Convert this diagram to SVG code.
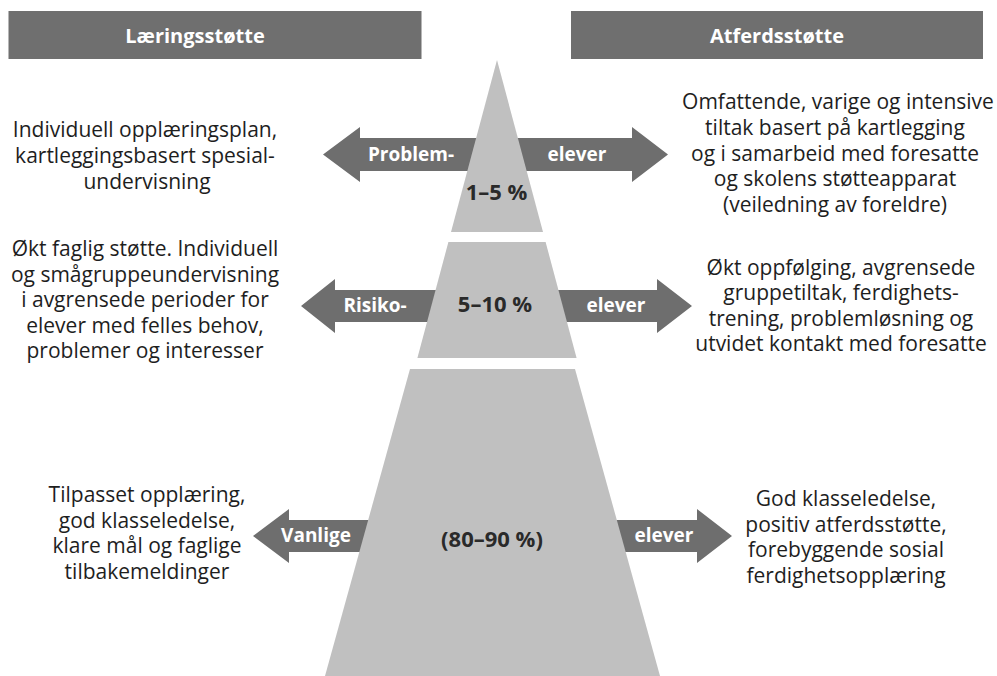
<svg xmlns="http://www.w3.org/2000/svg" width="997" height="676" viewBox="0 0 997 676">
<style>
.hdr{fill:#6f6f6f}
.hdrt{fill:#ffffff;font-family:"Open Sans","Liberation Sans",sans-serif;font-weight:bold;font-size:20px;text-anchor:middle}
.tier{fill:#c0c0c0}
.arrow{fill:#6e6e6e}
.albl{fill:#ffffff;font-family:"Open Sans","Liberation Sans",sans-serif;font-weight:bold;font-size:19px;text-anchor:middle}
.pct{fill:#2a2a2a;font-family:"Open Sans","Liberation Sans",sans-serif;font-weight:bold;font-size:22px;text-anchor:middle}
.body{fill:#1e1e1e;font-family:"Open Sans","Liberation Sans",sans-serif;font-size:21px;text-anchor:middle}
</style>
<rect width="997" height="676" fill="#ffffff"/>
<g id="header-laering">
<rect class="hdr" x="8.5" y="11" width="413" height="48"/>
<text class="hdrt" x="195" y="42.5">Læringsstøtte</text>
</g>
<g id="header-atferd">
<rect class="hdr" x="571" y="11" width="412" height="48"/>
<text class="hdrt" x="777" y="42.5">Atferdsstøtte</text>
</g>
<g id="connectors">
<polygon class="arrow" points="323,154.5 360,127 360,138 497,138 497,171 360,171 360,182"/>
<polygon class="arrow" points="668,154.5 632,127 632,138 497,138 497,171 632,171 632,182"/>
<polygon class="arrow" points="301,306 335,279 335,290 496,290 496,322 335,322 335,333"/>
<polygon class="arrow" points="692,306 657,279 657,290 496,290 496,322 657,322 657,333"/>
<polygon class="arrow" points="253,536 289,509 289,520 492,520 492,552 289,552 289,563"/>
<polygon class="arrow" points="732,536 697,509 697,520 492,520 492,552 697,552 697,563"/>
<text class="albl" x="411" y="161">Problem-</text>
<text class="albl" x="577" y="161">elever</text>
<text class="albl" x="375" y="312">Risiko-</text>
<text class="albl" x="616" y="312">elever</text>
<text class="albl" x="316" y="542">Vanlige</text>
<text class="albl" x="664" y="542">elever</text>
</g>
<g id="tier-top">
<polygon class="tier" points="497,60 543,232 451,232"/>
<text class="pct" x="496.5" y="200">1–5 %</text>
</g>
<g id="tier-middle">
<polygon class="tier" points="448.4,242 545.6,242 576.6,358 417.4,358"/>
<text class="pct" x="495" y="312">5–10 %</text>
</g>
<g id="tier-bottom">
<polygon class="tier" points="410,369 575,369 660,676 325,676"/>
<text class="pct" x="492" y="547" font-weight="600">(80–90 %)</text>
</g>
<g id="text-laering-problem">
<text class="body" x="145" y="137">Individuell opplæringsplan,</text>
<text class="body" x="145" y="163">kartleggingsbasert spesial-</text>
<text class="body" x="147" y="188.5">undervisning</text>
</g>
<g id="text-laering-risiko">
<text class="body" x="145" y="256">Økt faglig støtte. Individuell</text>
<text class="body" x="145" y="281.5">og smågruppeundervisning</text>
<text class="body" x="145" y="307">i avgrensede perioder for</text>
<text class="body" x="145" y="332.5">elever med felles behov,</text>
<text class="body" x="145" y="358">problemer og interesser</text>
</g>
<g id="text-laering-vanlige">
<text class="body" x="147" y="502">Tilpasset opplæring,</text>
<text class="body" x="147" y="527.5">god klasseledelse,</text>
<text class="body" x="147" y="553">klare mål og faglige</text>
<text class="body" x="147" y="578.5">tilbakemeldinger</text>
</g>
<g id="text-atferd-problem">
<text class="body" x="838" y="109">Omfattende, varige og intensive</text>
<text class="body" x="835" y="135">tiltak basert på kartlegging</text>
<text class="body" x="835" y="160.5">og i samarbeid med foresatte</text>
<text class="body" x="835" y="186">og skolens støtteapparat</text>
<text class="body" x="835" y="211.5">(veiledning av foreldre)</text>
</g>
<g id="text-atferd-risiko">
<text class="body" x="841" y="274.5">Økt oppfølging, avgrensede</text>
<text class="body" x="841" y="300">gruppetiltak, ferdighets-</text>
<text class="body" x="841" y="325.5">trening, problemløsning og</text>
<text class="body" x="841" y="351">utvidet kontakt med foresatte</text>
</g>
<g id="text-atferd-vanlige">
<text class="body" x="846" y="506">God klasseledelse,</text>
<text class="body" x="846" y="531.5">positiv atferdsstøtte,</text>
<text class="body" x="846" y="557">forebyggende sosial</text>
<text class="body" x="846" y="582.5">ferdighetsopplæring</text>
</g>
</svg>
